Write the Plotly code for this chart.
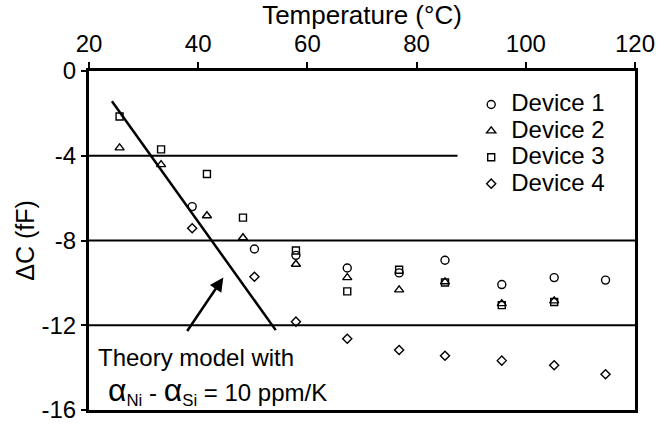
import plotly.graph_objects as go

# Measured capacitance change vs. temperature for four devices
temp_d1 = [38.9, 50.3, 57.9, 67.3, 76.8, 85.2, 95.6, 105.2, 114.6]
dc_d1 = [-6.40, -8.40, -8.70, -9.30, -9.53, -8.93, -10.08, -9.75, -9.87]

temp_d2 = [25.6, 33.2, 41.6, 48.2, 57.9, 67.3, 76.8, 85.2, 95.6, 105.2]
dc_d2 = [-3.63, -4.42, -6.83, -7.87, -9.12, -9.75, -10.33, -9.95, -10.98, -10.85]

temp_d3 = [25.6, 33.2, 41.6, 48.2, 57.9, 67.3, 76.8, 85.2, 95.6, 105.2]
dc_d3 = [-2.15, -3.70, -4.86, -6.92, -8.47, -10.40, -9.38, -9.98, -11.05, -10.90]

temp_d4 = [38.9, 50.3, 57.9, 67.3, 76.8, 85.2, 95.6, 105.2, 114.6]
dc_d4 = [-7.42, -9.71, -11.83, -12.64, -13.17, -13.44, -13.67, -13.89, -14.31]

device_names = ["Device 1", "Device 2", "Device 3", "Device 4"]
device_symbols = ["circle-open", "triangle-up-open", "square-open", "diamond-open"]
device_sizes = [8, 8, 7, 7]

# Theory model (alpha_Ni - alpha_Si = 10 ppm/K)
theory_temp = [24.2, 54.2]
theory_dc = [-1.43, -12.23]

# Horizontal reference levels and their temperature extents
ref_levels = [-4, -8, -12]
ref_temp_end = [87.5, 120, 120]

# Arrow pointing at the theory line
arrow_tail = (37.8, -12.34)
arrow_head = (44.6, -9.75)

x_ticks = [20, 40, 60, 80, 100, 120]
y_ticks = [0, -4, -8, -12, -16]
y_tick_text = ["0", "-4", "-8", "-12", "-16"]

FONT = "Liberation Sans, Arial, Helvetica, sans-serif"

fig = go.Figure()

for level, t_end in zip(ref_levels, ref_temp_end):
    fig.add_trace(go.Scatter(
        x=[x_ticks[0], t_end], y=[level, level], mode="lines",
        line=dict(color="black", width=2), showlegend=False, hoverinfo="skip"))

fig.add_trace(go.Scatter(
    x=theory_temp, y=theory_dc, mode="lines",
    line=dict(color="black", width=2.5), showlegend=False, hoverinfo="skip"))

series = [(temp_d1, dc_d1), (temp_d2, dc_d2), (temp_d3, dc_d3), (temp_d4, dc_d4)]
for (tx, dy), name, sym, size in zip(series, device_names, device_symbols, device_sizes):
    fig.add_trace(go.Scatter(
        x=tx, y=dy, mode="markers",
        name=f"<span style='font-size:24px'>{name}</span>",
        marker=dict(symbol=sym, size=size, color="black", line=dict(color="black", width=1.4))))

fig.add_annotation(
    x=arrow_head[0], y=arrow_head[1], ax=arrow_tail[0], ay=arrow_tail[1],
    xref="x", yref="y", axref="x", ayref="y", text="",
    showarrow=True, arrowhead=2, arrowsize=1.1, arrowwidth=2.5, arrowcolor="black")

fig.add_annotation(
    x=21.3, y=-13.53, xref="x", yref="y", xanchor="left", yanchor="middle",
    text="Theory model with", showarrow=False,
    font=dict(family=FONT, size=24, color="black"))

alpha = "<span style='font-size:32px'>α</span>"
fig.add_annotation(
    x=23.2, y=-15.1, xref="x", yref="y", xanchor="left", yanchor="middle",
    text=f"{alpha}<sub>Ni</sub> - {alpha}<sub>Si</sub> = 10 ppm/K", showarrow=False,
    font=dict(family=FONT, size=24, color="black"))

fig.update_layout(
    width=668, height=435,
    margin=dict(l=89, r=33, t=69, b=15),
    paper_bgcolor="white", plot_bgcolor="white",
    font=dict(family=FONT, size=24, color="black"),
    showlegend=True,
    legend=dict(
        x=0.70, y=0.955, xanchor="left", yanchor="top",
        bgcolor="rgba(0,0,0,0)", borderwidth=0,
        font=dict(family=FONT, size=18, color="black"),
        itemsizing="trace"),
    xaxis=dict(
        side="top", range=[20, 120], tickvals=x_ticks,
        ticks="outside", ticklen=6, tickwidth=2, tickcolor="black",
        showline=True, linewidth=3, linecolor="black", mirror=True,
        showgrid=False, zeroline=False,
        tickfont=dict(family=FONT, size=24, color="black"),
        title=dict(text="Temperature (°C)", font=dict(family=FONT, size=26, color="black"), standoff=0)),
    yaxis=dict(
        range=[-16, 0], tickvals=y_ticks, ticktext=y_tick_text,
        ticks="outside", ticklen=5, tickwidth=2, tickcolor="black",
        showline=True, linewidth=3, linecolor="black", mirror=True,
        showgrid=False, zeroline=False,
        tickfont=dict(family=FONT, size=24, color="black"),
        title=dict(text="ΔC (fF)", font=dict(family=FONT, size=25, color="black"), standoff=0)),
)

fig.write_html("out.html")
